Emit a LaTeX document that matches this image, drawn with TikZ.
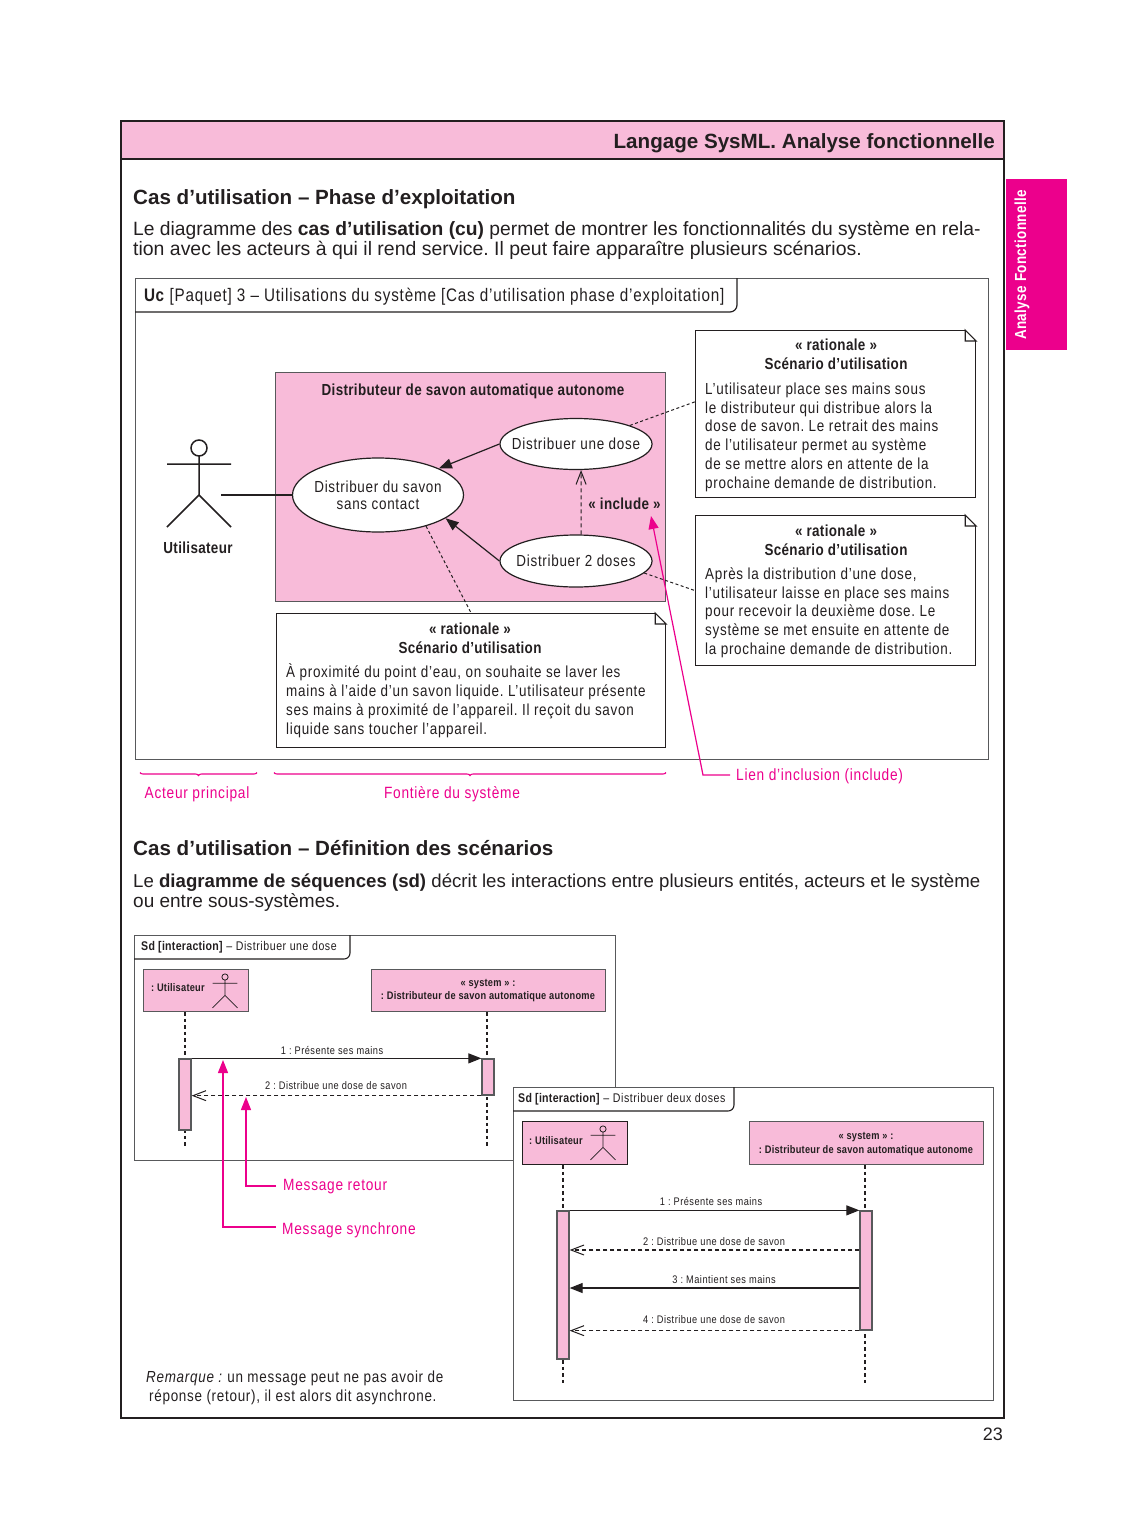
\documentclass[tikz,border=0pt]{standalone}
\usepackage{fontspec}
\setmainfont{Liberation Sans}
\newfontfamily\narrowfont[FakeStretch=0.84, LetterSpace=4.5, BoldFeatures={LetterSpace=2.2}]{Liberation Sans}
\usepackage{xcolor}
\usetikzlibrary{positioning, arrows.meta, calc, shapes.geometric, decorations.pathreplacing}
\definecolor{sysPink}{HTML}{F8BBD9}
\definecolor{sysMagenta}{HTML}{EC008C}
\definecolor{sysDark}{HTML}{231F20}
\definecolor{sysGray}{HTML}{58595B}
\newcommand{\narrowsize}[1]{\narrowfont\fontsize{#1}{#1}\selectfont}
\tikzset{
  plaintext/.style={inner sep=0pt, text=sysDark},
  heading/.style={plaintext, anchor=west, text height=18.8pt, text depth=4.1pt, font=\bfseries\fontsize{20.6}{20.6}\selectfont},
  paratext/.style={plaintext, anchor=west, text height=17.6pt, text depth=3.8pt},
  notetitle/.style={plaintext, text height=13.5pt, text depth=3.2pt, font=\narrowsize{16}\bfseries},
  notetext/.style={plaintext, anchor=west, text height=13.5pt, text depth=3.2pt, font=\narrowsize{16}},
  calltext/.style={plaintext, anchor=west, text=sysMagenta, text height=13.5pt, text depth=3.2pt, font=\narrowsize{16.3}},
  msgtext/.style={plaintext, text height=9.5pt, text depth=2.2pt, font=\narrowsize{11}},
  boxtext/.style={plaintext, text height=9.5pt, text depth=2.2pt, font=\narrowsize{11}\bfseries},
  tabtext/.style={plaintext, anchor=west, text height=10.1pt, text depth=2.5pt, font=\narrowsize{12.6}},
  framebox/.style={draw=sysGray, line width=1.4pt, fill=white, inner sep=0pt, anchor=north west},
  notebox/.style={draw=sysDark, line width=1.2pt, fill=white, inner sep=0pt, anchor=north west},
  usecase/.style={ellipse, draw=sysDark, line width=1.2pt, fill=white, inner xsep=-30pt, inner ysep=-15pt, align=center,
    text=sysDark, font=\narrowsize{16}},
  pinkbox/.style={draw=sysGray, line width=1.3pt, fill=sysPink, inner sep=0pt, anchor=north west},
  activation/.style={draw=sysGray, line width=1.3pt, fill=sysPink, inner sep=0pt, minimum width=12pt},
  lifeline/.style={draw=sysDark, line width=1.3pt, dash pattern=on 3.5pt off 3pt},
  msgsync/.style={draw=sysDark, line width=1.2pt, -{Triangle[length=13pt,width=10pt]}},
  msgreturn/.style={draw=sysDark, line width=1.1pt, dash pattern=on 4pt off 3pt,
    -{Straight Barb[length=13pt,width=10pt,line width=1pt]}},
  notelink/.style={draw=sysDark, line width=1pt, dash pattern=on 3pt off 2.5pt},
  callout/.style={draw=sysMagenta, line width=1.2pt, -{Triangle[length=13pt,width=10pt]}},
  extent/.style={draw=sysMagenta, line width=1.1pt, decorate, decoration={brace, amplitude=3pt, mirror}},
  stickman/.pic={
    \draw[draw=sysDark] (0,8) -- (0,47) (-32,16) -- (32,16)
      (-32,79) -- (0,47) -- (32,79);
    \draw[draw=sysDark] (0,0) circle[radius=8];
  }
}
\begin{document}
\frenchspacing
\begin{tikzpicture}[x=1pt, y=-1pt]
  \useasboundingbox (0,0) rectangle (1125,1539);
  % Page
  \fill[sysPink] (121,121) rectangle (1004,159);
  \draw[sysDark, line width=2.6pt] (121,121) rectangle (1004,1418);
  \draw[sysDark, line width=2.6pt] (121,159) -- (1004,159);
  \node[heading, anchor=east] (pagetitle) at (995,141) {Langage SysML. Analyse fonctionnelle};
  \fill[sysMagenta] (1006,179) rectangle (1067,350);
  \node[notetitle, rotate=90, text=white] (sidetab) at (1021,265) {Analyse Fonctionnelle};
  \node[plaintext, anchor=east, text height=17pt, text depth=3.6pt, font=\fontsize{18}{18}\selectfont] (pagenum) at (1003,1434) {23};
  % Cas d'utilisation
  \node[heading] (headUc) at (133,197) {Cas d’utilisation – Phase d’exploitation};
  \node[paratext, font=\fontsize{19.25}{19.25}\selectfont] (paraUcA) at (133,229) {Le diagramme des \textbf{cas d’utilisation (cu)} permet de montrer les fonctionnalités du système en rela-};
  \node[paratext, font=\fontsize{19.45}{19.45}\selectfont] (paraUcB) at (133,249) {tion avec les acteurs à qui il rend service. Il peut faire apparaître plusieurs scénarios.};
  \node[framebox, minimum width=853pt, minimum height=481pt] (frameUc) at (135,278) {};
  \draw[sysDark, line width=1.2pt] (135,312) [rounded corners=7] -- (737,312) [sharp corners] -- (737,278);
  \node[plaintext, anchor=west, text height=17pt, text depth=3.6pt, font=\narrowsize{18.13}] (tabUc) at (144,295) {\textbf{Uc} [Paquet] 3 – Utilisations du système [Cas d’utilisation phase d’exploitation]};
  % Systeme
  \node[pinkbox, minimum width=390pt, minimum height=229pt] (sysbox) at (275,372) {};
  \node[notetitle] (systitle) at (473,390) {Distributeur de savon automatique autonome};
  \node[usecase, minimum width=171pt, minimum height=74pt] (ucMain) at (378,495) {Distribuer du savon\\[1pt]sans contact};
  \node[usecase, minimum width=152pt, minimum height=51pt] (ucOne) at (576,444) {Distribuer une dose};
  \node[usecase, minimum width=152pt, minimum height=52pt] (ucTwo) at (576,561) {Distribuer 2 doses};
  \node[notetitle] (lblInclude) at (624.5,504) {« include »};
  \pic[line width=1.5pt] at (199,448) {stickman};
  \node[notetitle] (lblActor) at (198,548) {Utilisateur};
  \coordinate (actorHand) at (221,495);
  \draw[sysDark, line width=1.1pt] (actorHand) -- (ucMain.west);
  \draw[msgsync] (ucOne.west) -- (ucMain.north east);
  \draw[msgsync] (ucTwo.west) -- (ucMain.-19);
  \draw[msgreturn] (ucTwo.79) -- (ucOne.-79);
  % Notes
  \node[notebox, minimum width=280pt, minimum height=167pt] (noteA) at (695,330) {};
  \node[notebox, minimum width=280pt, minimum height=150pt] (noteB) at (695,515) {};
  \node[notebox, minimum width=389pt, minimum height=134pt] (noteC) at (276,613) {};
  \foreach \note in {noteA,noteB,noteC} {
    \fill[white] ($(\note.north east)+(-11,-1)$) rectangle ($(\note.north east)+(1,11)$);
    \draw[sysDark, line width=1.1pt] ($(\note.north east)+(-11,0)$) -- ($(\note.north east)+(0,11)$) -- ($(\note.north east)+(-11,11)$) -- cycle;
  }
  \foreach \note/\x/\y in {noteA/836/345, noteB/836/531, noteC/470/629} {
    \node[notetitle] (\note head) at (\x,\y) {« rationale »};
    \node[notetitle] (\note sub) at (\x,\y+19) {Scénario d’utilisation};
  }
  \foreach \y/\txt in {389/L’utilisateur place ses mains sous, 408/le distributeur qui distribue alors la,
    426/dose de savon. Le retrait des mains, 445/de l’utilisateur permet au système,
    464/de se mettre alors en attente de la, 483/prochaine demande de distribution.} {
    \node[notetext] (noteA\y) at (705,\y) {\txt};
  }
  \foreach \y/\txt in {574/{Après la distribution d’une dose,}, 593/l’utilisateur laisse en place ses mains,
    611/pour recevoir la deuxième dose. Le, 630/système se met ensuite en attente de,
    649/la prochaine demande de distribution.} {
    \node[notetext] (noteB\y) at (705,\y) {\txt};
  }
  \foreach \y/\txt in {672/{À proximité du point d’eau, on souhaite se laver les},
    691/mains à l’aide d’un savon liquide. L’utilisateur présente,
    710/ses mains à proximité de l’appareil. Il reçoit du savon,
    729/liquide sans toucher l’appareil.} {
    \node[notetext] (noteC\y) at (286,\y) {\txt};
  }
  \draw[notelink] (ucOne.19) -- (noteA.175);
  \draw[notelink] (ucTwo.-10) -- (noteB.west);
  \draw[notelink] (ucMain.-33) -- (noteC.north);
  % Legendes
  \draw[extent] (140,772.5) -- (257,772.5);
  \draw[extent] (274,772.5) -- (666,772.5);
  \node[calltext, anchor=center] (lblPrincipal) at (197,793) {Acteur principal};
  \node[calltext, anchor=center] (lblFrontiere) at (452,793) {Fontière du système};
  \node[calltext] (lblLien) at (736,775) {Lien d’inclusion (include)};
  \coordinate (includeTip) at (651,516);
  \coordinate (lienBend) at (703,775);
  \draw[callout] ($(lblLien.west)+(-6,0)$) -- (lienBend) -- (includeTip);
  % Cas d'utilisation - scenarios
  \node[heading] (headSd) at (133,848) {Cas d’utilisation – Définition des scénarios};
  \node[paratext, font=\fontsize{18.63}{18.63}\selectfont] (paraSdA) at (133,881) {Le \textbf{diagramme de séquences (sd)} décrit les interactions entre plusieurs entités, acteurs et le système};
  \node[paratext, font=\fontsize{19}{19}\selectfont] (paraSdB) at (133,901) {ou entre sous-systèmes.};
  % Sd une dose
  \node[framebox, minimum width=481pt, minimum height=225pt] (frameOne) at (134,935) {};
  \draw[sysDark, line width=1.1pt] (134,959) [rounded corners=6] -- (350,959) [sharp corners] -- (350,935);
  \node[tabtext] (tabOne) at (141,947) {\textbf{Sd [interaction]} – Distribuer une dose};
  \node[pinkbox, minimum width=105pt, minimum height=42pt] (userOne) at (143,969) {};
  \node[boxtext, anchor=west] (userOneTxt) at (151,988) {: Utilisateur};
  \pic[scale=0.39, line width=0.8pt] at (225,977) {stickman};
  \node[pinkbox, minimum width=234pt, minimum height=42pt] (systemOne) at (371,969) {};
  \node[boxtext] (systemOneA) at (488,983) {« system » :};
  \node[boxtext] (systemOneB) at (488,996) {: Distributeur de savon automatique autonome};
  \coordinate (endOneL) at (185,1146);
  \coordinate (endOneR) at (487,1146);
  \draw[lifeline] (userOne.south -| endOneL) -- (endOneL);
  \draw[lifeline] (systemOne.south -| endOneR) -- (endOneR);
  \node[activation, minimum height=71pt] (actOneL) at (185,1094.5) {};
  \node[activation, minimum height=36pt] (actOneR) at (488,1077) {};
  \draw[msgsync] (actOneL.north east) -- (actOneR.north west);
  \draw[msgreturn] (actOneR.south west) -- (actOneR.south west -| actOneL.east);
  \node[msgtext] (msgOneA) at (332,1051) {1 : Présente ses mains};
  \node[msgtext] (msgOneB) at (336,1086) {2 : Distribue une dose de savon};
  % Sd deux doses
  \node[framebox, minimum width=480pt, minimum height=313pt] (frameTwo) at (513,1087) {};
  \draw[sysDark, line width=1.1pt] (513,1111) [rounded corners=6] -- (734,1111) [sharp corners] -- (734,1087);
  \node[tabtext] (tabTwo) at (518,1099) {\textbf{Sd [interaction]} – Distribuer deux doses};
  \node[pinkbox, draw=sysDark, minimum width=105pt, minimum height=43pt] (userTwo) at (522,1121) {};
  \node[boxtext, anchor=west] (userTwoTxt) at (529,1141) {: Utilisateur};
  \pic[scale=0.39, line width=0.8pt] at (603,1129) {stickman};
  \node[pinkbox, minimum width=234pt, minimum height=43pt] (systemTwo) at (749,1121) {};
  \node[boxtext] (systemTwoA) at (866,1136) {« system » :};
  \node[boxtext] (systemTwoB) at (866,1150) {: Distributeur de savon automatique autonome};
  \coordinate (endTwoL) at (563,1383);
  \coordinate (endTwoR) at (865,1383);
  \draw[lifeline] (userTwo.south -| endTwoL) -- (endTwoL);
  \draw[lifeline] (systemTwo.south -| endTwoR) -- (endTwoR);
  \node[activation, minimum height=148pt] (actTwoL) at (563,1285) {};
  \node[activation, minimum height=119pt] (actTwoR) at (866,1270.5) {};
  \draw[msgsync] (actTwoL.north east) -- (actTwoR.north west);
  \draw[msgreturn] (actTwoR.west |- 0,1250) -- (actTwoL.east |- 0,1250);
  \draw[msgsync] (actTwoR.west |- 0,1288) -- (actTwoL.east |- 0,1288);
  \draw[msgreturn] (actTwoR.south west) -- (actTwoR.south west -| actTwoL.east);
  \foreach \x/\y/\txt in {711/1202/1 : Présente ses mains, 714/1242/2 : Distribue une dose de savon,
    724/1280/3 : Maintient ses mains, 714/1320/4 : Distribue une dose de savon} {
    \node[msgtext] (msgTwo\y) at (\x,\y) {\txt};
  }
  % Messages
  \node[calltext] (lblRetour) at (283,1185) {Message retour};
  \node[calltext] (lblSynchrone) at (282,1229) {Message synchrone};
  \coordinate (retourTip) at (246,1097);
  \coordinate (synchroneTip) at (223,1060);
  \draw[callout] ($(lblRetour.west)+(-7,1)$) -| (retourTip);
  \draw[callout] ($(lblSynchrone.west)+(-6,-2)$) -| (synchroneTip);
  % Remarque
  \node[notetext] (remarkA) at (146,1377) {\textit{Remarque :} un message peut ne pas avoir de};
  \node[notetext] (remarkB) at (149,1396) {réponse (retour), il est alors dit asynchrone.};
\end{tikzpicture}
\end{document}
